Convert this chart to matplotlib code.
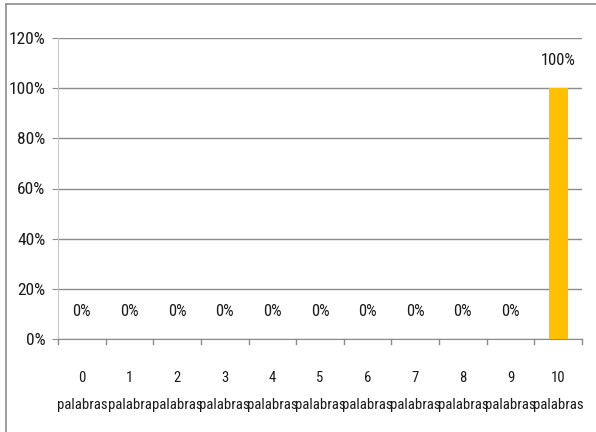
import matplotlib.pyplot as plt
from matplotlib import font_manager
from matplotlib.lines import Line2D
import numpy as np

# narrow font, like the Calibri of the original
installed = {(f.name, f.stretch) for f in font_manager.fontManager.ttflist}
names = {n for n, _ in installed}
stretch = 'normal'
if 'Liberation Sans Narrow' in names:
    family = 'Liberation Sans Narrow'
elif 'Roboto Condensed' in names:
    family = 'Roboto Condensed'
elif ('DejaVu Sans', 'condensed') in installed or 'DejaVu Sans Condensed' in names:
    family = 'DejaVu Sans'
    stretch = 'condensed'
else:
    family = 'Liberation Sans'
plt.rcParams['font.family'] = [family, 'DejaVu Sans']
plt.rcParams['font.stretch'] = stretch

numbers = ['0', '1', '2', '3', '4', '5', '6', '7', '8', '9', '10']
words = ['palabras', 'palabra', 'palabras', 'palabras', 'palabras', 'palabras',
         'palabras', 'palabras', 'palabras', 'palabras', 'palabras']
values = [0, 0, 0, 0, 0, 0, 0, 0, 0, 0, 100]
yticks = [0, 20, 40, 60, 80, 100, 120]

bar_color = '#FFC000'
grid_color = '#8c8c8c'
text_color = '#1a1a1a'

fig = plt.figure(figsize=(5.96, 4.32), dpi=100)
ax = fig.add_axes([58 / 596, 1 - 339 / 432, 524 / 596, 301 / 432])

x = np.arange(len(values))
ax.bar(x, values, width=0.4, color=bar_color, zorder=3)

for xi, v in zip(x, values):
    ax.annotate(f'{v}%', (xi, v), xytext=(0, 20), textcoords='offset points',
                ha='center', va='center', fontsize=12, color=text_color)

ax.set_xlim(-0.5, len(values) - 0.5)
ax.set_ylim(0, 120)
ax.set_yticks(yticks)
ax.set_yticklabels([f'{t}%' for t in yticks], fontsize=12.5, color=text_color)
ax.yaxis.grid(True, color=grid_color, linewidth=1)
ax.set_axisbelow(True)

ax.set_xticks(x)
ax.set_xticklabels([f'{n}\n{w}' for n, w in zip(numbers, words)],
                   fontsize=10.6, color=text_color, linespacing=2.2)
ax.tick_params(axis='x', length=0, pad=23)
ax.tick_params(axis='y', length=4, color=grid_color, pad=5)

# category boundary ticks on x axis
for b in np.arange(-0.5, len(values), 1.0):
    ax.plot([b, b], [0, -2], color=grid_color, linewidth=1, clip_on=False)

for s in ['top', 'right']:
    ax.spines[s].set_visible(False)
ax.spines['left'].set_color('#c8c8c8')
ax.spines['bottom'].set_color(grid_color)

# outer chart border
fig.add_artist(Line2D([6 / 596, 1], [1 - 4 / 432, 1 - 4 / 432], color='#8c8c8c', linewidth=1.2))
fig.add_artist(Line2D([6 / 596, 6 / 596], [0, 1 - 4 / 432], color='#8c8c8c', linewidth=1.2))

fig.savefig('out.png', dpi=100)
